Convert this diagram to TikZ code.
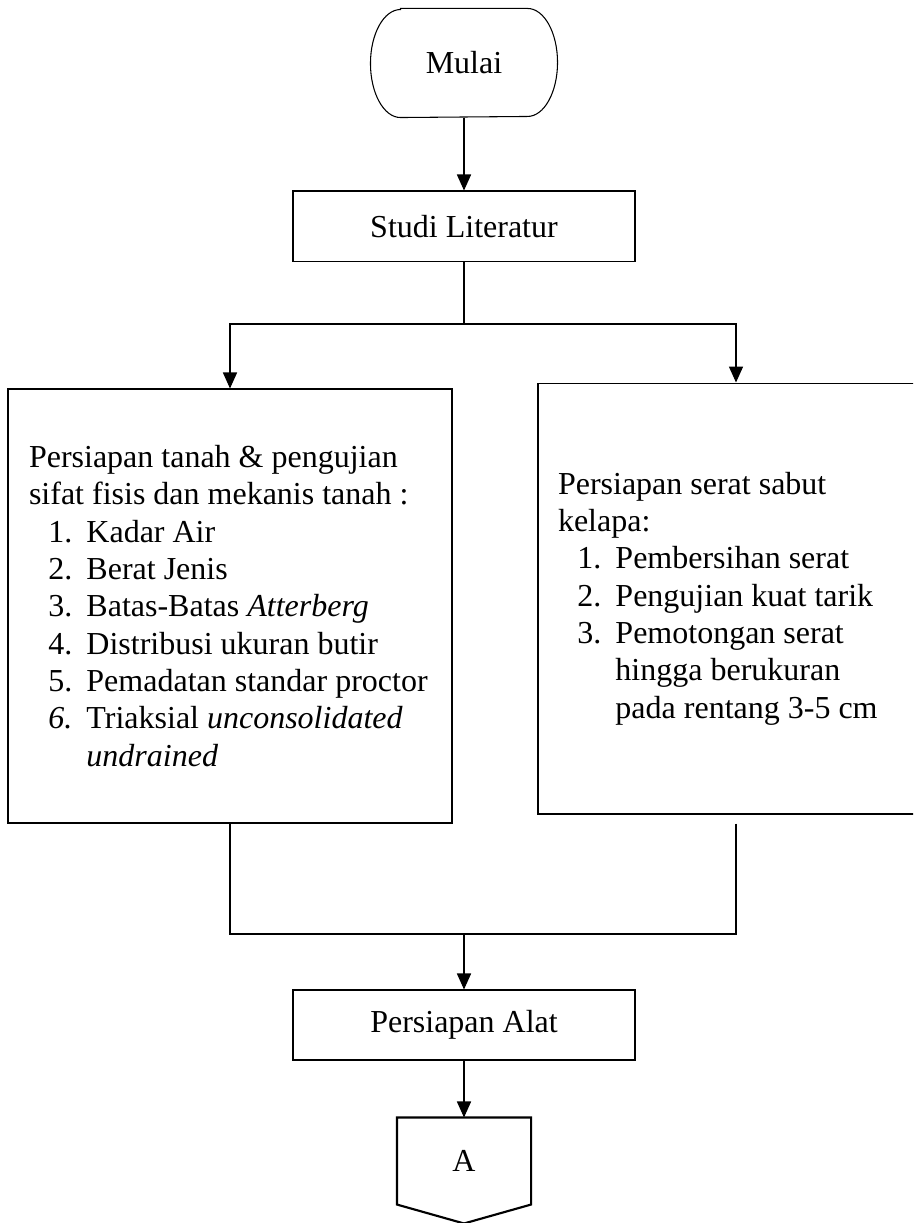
\documentclass[tikz,border=0pt]{standalone}
\usepackage{fontspec}
\setmainfont{Liberation Serif}
\usepackage{tikz}
\usetikzlibrary{arrows.meta}
\newcommand{\butir}[2]{\hspace*{7.3pt}\makebox[14.25pt][l]{#1}\mbox{#2}}
\newcommand{\lanjut}[1]{\hspace*{21.55pt}\mbox{#1}}

\begin{document}
\begin{tikzpicture}[x=0.375pt, y=-0.375pt,
    >={Triangle[length=6pt, width=5.3pt]},
    every node/.style={font=\fontsize{12}{14}\selectfont},
    kotak/.style={draw, rectangle, inner sep=0pt},
    teks/.style={kotak, align=flush left}]

\useasboundingbox (0,0) rectangle (913,1223);
\clip (0,0) rectangle (913,1223);

% Mulai (terminator)
\node[minimum width=69.75pt, minimum height=40.5pt] (mulai) at (464,63) {Mulai};
\draw ([xshift=11.25pt]mulai.north west) -- ([xshift=-11.25pt]mulai.north east)
    arc[start angle=90, end angle=-90, x radius=11.25pt, y radius=20.25pt]
    -- ([xshift=11.25pt]mulai.south west)
    arc[start angle=270, end angle=90, x radius=11.25pt, y radius=20.25pt]
    -- cycle;

% Studi literatur
\node[kotak, minimum width=128.25pt, minimum height=26.6pt] (studi) at (464,226.5) {Studi Literatur};
\draw[->] (mulai) -- (studi);

% Persiapan tanah
\node[teks, minimum width=166.5pt, minimum height=162.75pt, text width=150.75pt]
    (tanah) at (230,606) {Persiapan tanah \& pengujian\\
    sifat fisis dan mekanis tanah :\\
    \butir{1.}{Kadar Air}\\
    \butir{2.}{Berat Jenis}\\
    \butir{3.}{Batas-Batas \textit{Atterberg}}\\
    \butir{4.}{Distribusi ukuran butir}\\
    \butir{5.}{Pemadatan standar proctor}\\
    \butir{\textit{6.}}{Triaksial \textit{unconsolidated}}\\
    \lanjut{\textit{undrained}}};

% Persiapan serat
\node[teks, minimum width=148.5pt, minimum height=161.6pt, text width=133.5pt]
    (serat) at (736,598.5) {Persiapan serat sabut\\
    kelapa:\\
    \butir{1.}{Pembersihan serat}\\
    \butir{2.}{Pengujian kuat tarik}\\
    \butir{3.}{Pemotongan serat}\\
    \lanjut{hingga berukuran}\\
    \lanjut{pada rentang 3-5 cm}};

% Cabang ke dua kotak
\coordinate (cabang) at (464,324);
\draw (studi) -- (cabang);
\draw[->] (cabang) -| (tanah);
\draw[->] (cabang) -| (serat);

% Persiapan alat
\node[kotak, minimum width=128.25pt, minimum height=26.25pt] (alat) at (464,1025) {Persiapan Alat};

% Gabung
\coordinate (gabung) at (464,934);
\draw (tanah.south) |- (gabung);
\draw (serat.south |- tanah.south) |- (gabung);
\draw[->] (gabung) -- (alat);

% Konektor A
\node[minimum width=49.9pt, minimum height=32.25pt] (konA) at (464,1161) {A};
\draw[line width=0.8pt] (konA.north west) -- (konA.north east) -- (konA.south east)
    -- ([yshift=-7.1pt]konA.south) -- (konA.south west) -- cycle;
\draw[->] (alat) -- (konA);

\end{tikzpicture}
\end{document}
